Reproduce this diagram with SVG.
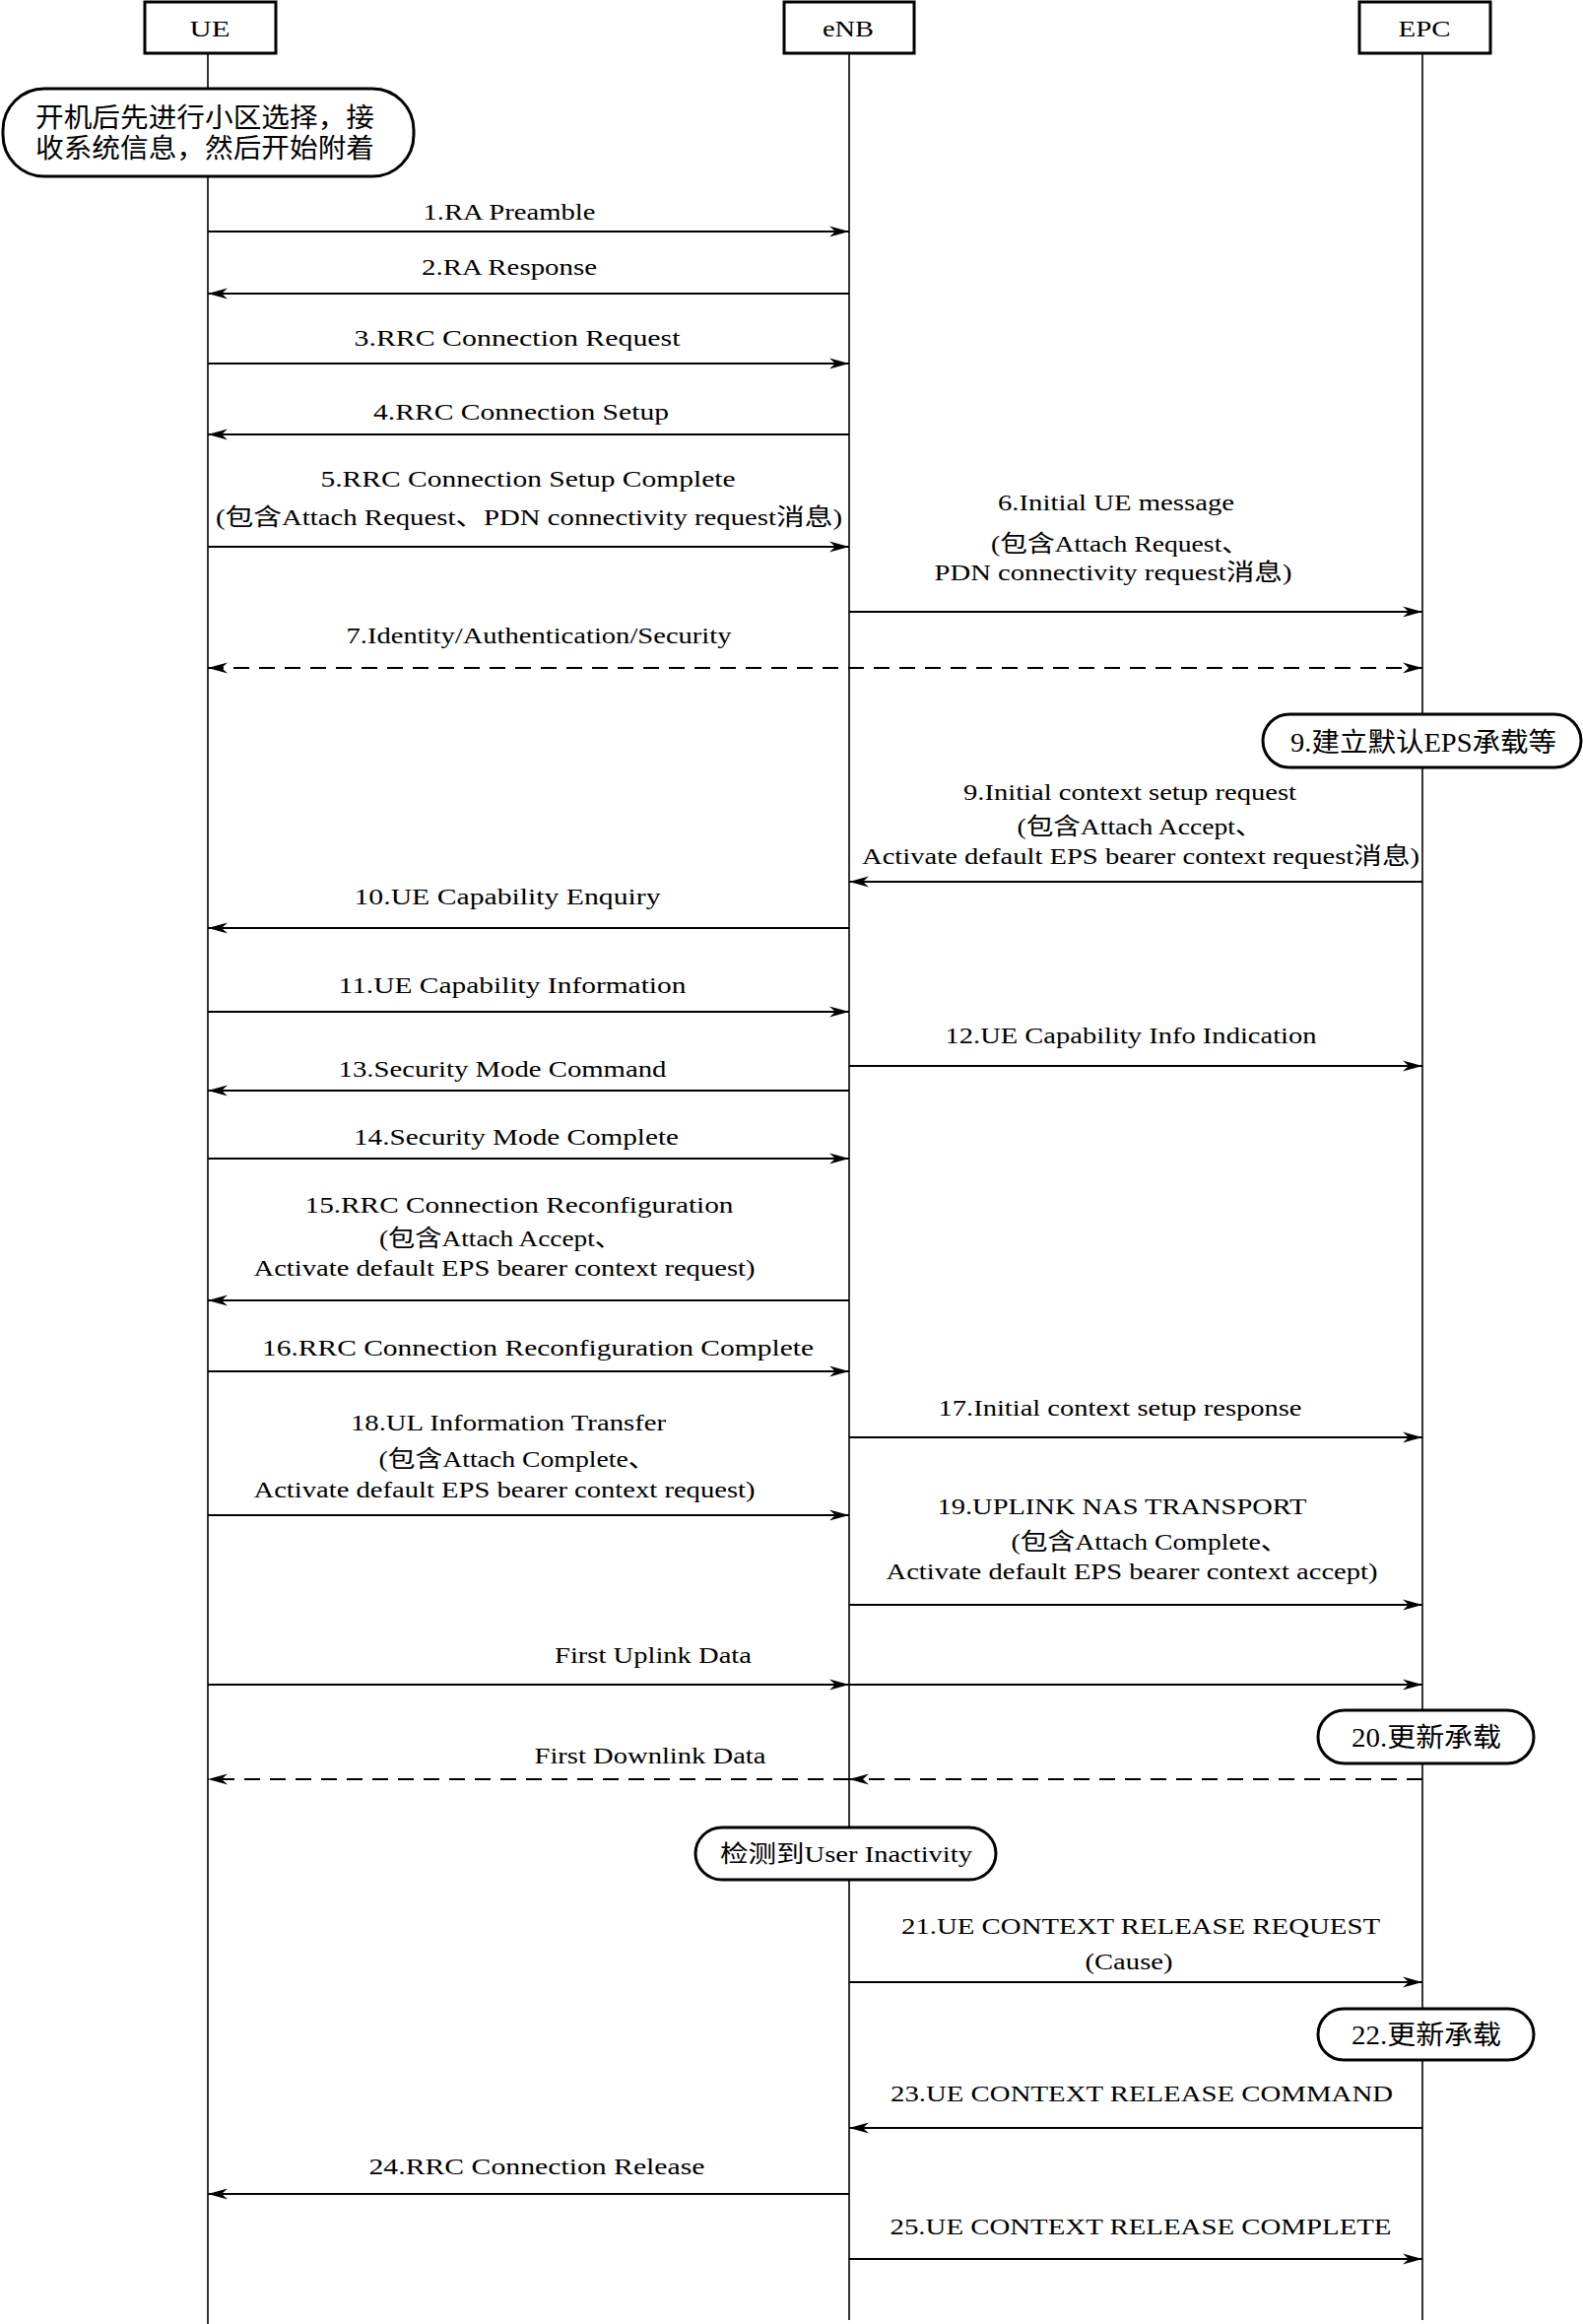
<svg xmlns="http://www.w3.org/2000/svg" width="1607" height="2359" viewBox="0 0 1607 2359">
<style>
.bg{fill:#fff}
.box{fill:#fff;stroke:#000;stroke-width:3}
.note{fill:#fff;stroke:#000;stroke-width:3}
.life{stroke:#000;stroke-width:1.6;fill:none}
.msg{stroke:#000;stroke-width:2.2;fill:none}
.dash{stroke:#000;stroke-width:2.2;fill:none;stroke-dasharray:16 10}
text{font-family:"Liberation Serif","Noto Sans CJK SC",serif;font-size:24px;fill:#000;text-anchor:middle}
.cj{font-size:27px}
</style>
<defs>
<marker id="ah" markerUnits="userSpaceOnUse" markerWidth="22" markerHeight="14" refX="20" refY="7" orient="auto-start-reverse" viewBox="0 0 22 14">
<path d="M0,1.5 L20,7 L0,12.5 L6,7 Z" fill="#000"/>
</marker>
</defs>
<rect class="bg" x="0" y="0" width="1607" height="2359"/>

<g id="lifelines">
<line class="life" x1="211" y1="54" x2="211" y2="2359"/>
<line class="life" x1="862" y1="54" x2="862" y2="2355"/>
<line class="life" x1="1444" y1="54" x2="1444" y2="2355"/>
</g>

<g id="node-UE"><rect class="box" x="147" y="2" width="133" height="52"/><text x="213" y="37" textLength="41" lengthAdjust="spacingAndGlyphs">UE</text></g>
<g id="node-eNB"><rect class="box" x="796" y="2" width="132" height="52"/><text x="861" y="37" textLength="52" lengthAdjust="spacingAndGlyphs">eNB</text></g>
<g id="node-EPC"><rect class="box" x="1380" y="2" width="133" height="52"/><text x="1446" y="37" textLength="53" lengthAdjust="spacingAndGlyphs">EPC</text></g>

<g id="note-start"><rect class="note" x="3" y="90" width="417" height="89" rx="42" ry="42"/>
<text class="cj" x="208" y="129" textLength="344" lengthAdjust="spacingAndGlyphs">开机后先进行小区选择，接</text>
<text class="cj" x="208" y="160" textLength="344" lengthAdjust="spacingAndGlyphs">收系统信息，然后开始附着</text></g>

<g id="note-9"><rect class="note" x="1282" y="725" width="323" height="54" rx="27" ry="27"/>
<text class="cj" x="1445" y="763" textLength="270" lengthAdjust="spacingAndGlyphs">9.建立默认EPS承载等</text></g>

<g id="note-20"><rect class="note" x="1338" y="1736" width="219" height="54" rx="27" ry="27"/>
<text class="cj" x="1448" y="1773" textLength="152" lengthAdjust="spacingAndGlyphs">20.更新承载</text></g>

<g id="note-inactivity"><rect class="note" x="706" y="1855" width="305" height="53" rx="27" ry="27"/>
<text x="859" y="1890" textLength="256" lengthAdjust="spacingAndGlyphs">检测到User Inactivity</text></g>

<g id="note-22"><rect class="note" x="1338" y="2039" width="219" height="52" rx="26" ry="26"/>
<text class="cj" x="1448" y="2075" textLength="152" lengthAdjust="spacingAndGlyphs">22.更新承载</text></g>

<g id="connectors">
<line class="msg" x1="211" y1="235" x2="862" y2="235" marker-end="url(#ah)"/>
<line class="msg" x1="862" y1="298" x2="211" y2="298" marker-end="url(#ah)"/>
<line class="msg" x1="211" y1="369" x2="862" y2="369" marker-end="url(#ah)"/>
<line class="msg" x1="862" y1="441" x2="211" y2="441" marker-end="url(#ah)"/>
<line class="msg" x1="211" y1="555" x2="862" y2="555" marker-end="url(#ah)"/>
<line class="msg" x1="862" y1="621" x2="1444" y2="621" marker-end="url(#ah)"/>
<line class="dash" x1="211" y1="678" x2="1444" y2="678" marker-start="url(#ah)" marker-end="url(#ah)"/>
<line class="msg" x1="1444" y1="895" x2="862" y2="895" marker-end="url(#ah)"/>
<line class="msg" x1="862" y1="942" x2="211" y2="942" marker-end="url(#ah)"/>
<line class="msg" x1="211" y1="1027" x2="862" y2="1027" marker-end="url(#ah)"/>
<line class="msg" x1="862" y1="1082" x2="1444" y2="1082" marker-end="url(#ah)"/>
<line class="msg" x1="862" y1="1107" x2="211" y2="1107" marker-end="url(#ah)"/>
<line class="msg" x1="211" y1="1176" x2="862" y2="1176" marker-end="url(#ah)"/>
<line class="msg" x1="862" y1="1320" x2="211" y2="1320" marker-end="url(#ah)"/>
<line class="msg" x1="211" y1="1392" x2="862" y2="1392" marker-end="url(#ah)"/>
<line class="msg" x1="862" y1="1459" x2="1444" y2="1459" marker-end="url(#ah)"/>
<line class="msg" x1="211" y1="1538" x2="862" y2="1538" marker-end="url(#ah)"/>
<line class="msg" x1="862" y1="1629" x2="1444" y2="1629" marker-end="url(#ah)"/>
<line class="msg" x1="211" y1="1710" x2="862" y2="1710" marker-end="url(#ah)"/>
<line class="msg" x1="862" y1="1710" x2="1444" y2="1710" marker-end="url(#ah)"/>
<line class="dash" x1="1444" y1="1806" x2="862" y2="1806" marker-end="url(#ah)"/>
<line class="dash" x1="862" y1="1806" x2="211" y2="1806" marker-end="url(#ah)"/>
<line class="msg" x1="862" y1="2012" x2="1444" y2="2012" marker-end="url(#ah)"/>
<line class="msg" x1="1444" y1="2160" x2="862" y2="2160" marker-end="url(#ah)"/>
<line class="msg" x1="862" y1="2227" x2="211" y2="2227" marker-end="url(#ah)"/>
<line class="msg" x1="862" y1="2293" x2="1444" y2="2293" marker-end="url(#ah)"/>
</g>

<g id="labels">
<text x="517" y="223" textLength="175" lengthAdjust="spacingAndGlyphs">1.RA Preamble</text>
<text x="517" y="279" textLength="178" lengthAdjust="spacingAndGlyphs">2.RA Response</text>
<text x="525" y="351" textLength="331" lengthAdjust="spacingAndGlyphs">3.RRC Connection Request</text>
<text x="529" y="426" textLength="300" lengthAdjust="spacingAndGlyphs">4.RRC Connection Setup</text>
<text x="536" y="494" textLength="421" lengthAdjust="spacingAndGlyphs">5.RRC Connection Setup Complete</text>
<text x="537" y="533" textLength="636" lengthAdjust="spacingAndGlyphs">(包含Attach Request、PDN connectivity request消息)</text>
<text x="1133" y="518" textLength="240" lengthAdjust="spacingAndGlyphs">6.Initial UE message</text>
<text x="1137" y="560" textLength="262" lengthAdjust="spacingAndGlyphs">(包含Attach Request、</text>
<text x="1130" y="589" textLength="363" lengthAdjust="spacingAndGlyphs">PDN connectivity request消息)</text>
<text x="547" y="653" textLength="391" lengthAdjust="spacingAndGlyphs">7.Identity/Authentication/Security</text>
<text x="1147" y="812" textLength="338" lengthAdjust="spacingAndGlyphs">9.Initial context setup request</text>
<text x="1157" y="847" textLength="249" lengthAdjust="spacingAndGlyphs">(包含Attach Accept、</text>
<text x="1158" y="877" textLength="566" lengthAdjust="spacingAndGlyphs">Activate default EPS bearer context request消息)</text>
<text x="515" y="918" textLength="311" lengthAdjust="spacingAndGlyphs">10.UE Capability Enquiry</text>
<text x="520" y="1008" textLength="353" lengthAdjust="spacingAndGlyphs">11.UE Capability Information</text>
<text x="1148" y="1059" textLength="377" lengthAdjust="spacingAndGlyphs">12.UE Capability Info Indication</text>
<text x="510" y="1093" textLength="333" lengthAdjust="spacingAndGlyphs">13.Security Mode Command</text>
<text x="524" y="1162" textLength="330" lengthAdjust="spacingAndGlyphs">14.Security Mode Complete</text>
<text x="527" y="1231" textLength="435" lengthAdjust="spacingAndGlyphs">15.RRC Connection Reconfiguration</text>
<text x="508" y="1265" textLength="246" lengthAdjust="spacingAndGlyphs">(包含Attach Accept、</text>
<text x="512" y="1295" textLength="509" lengthAdjust="spacingAndGlyphs">Activate default EPS bearer context request)</text>
<text x="546" y="1376" textLength="560" lengthAdjust="spacingAndGlyphs">16.RRC Connection Reconfiguration Complete</text>
<text x="1137" y="1437" textLength="369" lengthAdjust="spacingAndGlyphs">17.Initial context setup response</text>
<text x="516" y="1452" textLength="320" lengthAdjust="spacingAndGlyphs">18.UL Information Transfer</text>
<text x="525" y="1489" textLength="281" lengthAdjust="spacingAndGlyphs">(包含Attach Complete、</text>
<text x="512" y="1520" textLength="509" lengthAdjust="spacingAndGlyphs">Activate default EPS bearer context request)</text>
<text x="1139" y="1537" textLength="375" lengthAdjust="spacingAndGlyphs">19.UPLINK NAS TRANSPORT</text>
<text x="1167" y="1573" textLength="281" lengthAdjust="spacingAndGlyphs">(包含Attach Complete、</text>
<text x="1149" y="1603" textLength="499" lengthAdjust="spacingAndGlyphs">Activate default EPS bearer context accept)</text>
<text x="663" y="1688" textLength="200" lengthAdjust="spacingAndGlyphs">First Uplink Data</text>
<text x="660" y="1790" textLength="235" lengthAdjust="spacingAndGlyphs">First Downlink Data</text>
<text x="1158" y="1963" textLength="486" lengthAdjust="spacingAndGlyphs">21.UE CONTEXT RELEASE REQUEST</text>
<text x="1146" y="1999" textLength="89" lengthAdjust="spacingAndGlyphs">(Cause)</text>
<text x="1159" y="2133" textLength="510" lengthAdjust="spacingAndGlyphs">23.UE CONTEXT RELEASE COMMAND</text>
<text x="545" y="2207" textLength="341" lengthAdjust="spacingAndGlyphs">24.RRC Connection Release</text>
<text x="1158" y="2268" textLength="509" lengthAdjust="spacingAndGlyphs">25.UE CONTEXT RELEASE COMPLETE</text>
</g>
</svg>
